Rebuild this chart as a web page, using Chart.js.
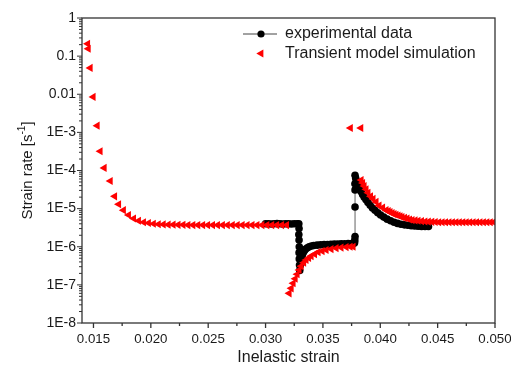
<!DOCTYPE html>
<html>
<head>
<meta charset="utf-8">
<script src="https://cdn.jsdelivr.net/npm/chart.js@4.4.1/dist/chart.umd.min.js"></script>
<style>
  html, body { margin: 0; padding: 0; background: #fff; }
  #wrap { width: 511px; height: 369px; }
</style>
</head>
<body>
<div id="wrap"><canvas id="rateChart" width="511" height="369"></canvas></div>
<script>
// axis ticks
const xTicks = [0.015, 0.020, 0.025, 0.030, 0.035, 0.040, 0.045, 0.050];
const xTickLabels = ['0.015', '0.020', '0.025', '0.030', '0.035', '0.040', '0.045', '0.050'];
const yTicks = [1, 0.1, 0.01, 1e-3, 1e-4, 1e-5, 1e-6, 1e-7, 1e-8];
const yTickLabels = ['1', '0.1', '0.01', '1E-3', '1E-4', '1E-5', '1E-6', '1E-7', '1E-8'];

// experimental data (inelastic strain / strain rate)
const expStrain = [
  0.03000, 0.03025, 0.03050, 0.03075, 0.03100, 0.03125, 0.03150, 0.03175, 0.03200, 0.03225,
  0.03250, 0.03275, 0.03290, 0.03292, 0.03290, 0.03292, 0.03294, 0.03292, 0.03294, 0.03296,
  0.03298, 0.03302, 0.03308, 0.03314, 0.03320, 0.03328, 0.03338, 0.03350, 0.03365, 0.03380,
  0.03400, 0.03420, 0.03450, 0.03480, 0.03510, 0.03540, 0.03570, 0.03600, 0.03630, 0.03660,
  0.03690, 0.03720, 0.03750, 0.03772, 0.03776, 0.03778, 0.03780, 0.03780, 0.03780, 0.03779,
  0.03780, 0.03786, 0.03794, 0.03802, 0.03810, 0.03820, 0.03832, 0.03846, 0.03860, 0.03876,
  0.03893, 0.03912, 0.03932, 0.03954, 0.03978, 0.04003, 0.04030, 0.04060, 0.04090, 0.04120,
  0.04150, 0.04180, 0.04210, 0.04240, 0.04270, 0.04300, 0.04330, 0.04360, 0.04390, 0.04420
];
const expRate = [
  4.0e-6, 4.0e-6, 3.95e-6, 4.0e-6, 4.05e-6, 4.0e-6, 3.95e-6, 4.0e-6, 4.0e-6, 3.95e-6,
  4.0e-6, 4.0e-6, 4.0e-6, 3.0e-6, 2.1e-6, 1.5e-6, 1.0e-6, 7.0e-7, 4.8e-7, 3.3e-7,
  2.4e-7, 3.2e-7, 4.3e-7, 5.3e-7, 6.1e-7, 7.0e-7, 7.9e-7, 8.7e-7, 9.4e-7, 1.0e-6,
  1.05e-6, 1.08e-6, 1.1e-6, 1.12e-6, 1.14e-6, 1.15e-6, 1.16e-6, 1.17e-6, 1.18e-6, 1.19e-6,
  1.2e-6, 1.21e-6, 1.22e-6, 1.23e-6, 1.3e-6, 1.5e-6, 1.85e-6, 1.1e-5, 3.1e-5, 4.5e-5,
  7.5e-5, 6.2e-5, 5.2e-5, 4.5e-5, 3.9e-5, 3.3e-5, 2.8e-5, 2.35e-5, 2.0e-5, 1.7e-5,
  1.45e-5, 1.22e-5, 1.04e-5, 9.0e-6, 7.8e-6, 6.8e-6, 6.0e-6, 5.3e-6, 4.8e-6, 4.4e-6,
  4.1e-6, 3.9e-6, 3.75e-6, 3.65e-6, 3.55e-6, 3.5e-6, 3.45e-6, 3.4e-6, 3.4e-6, 3.4e-6
];

// transient model simulation
const simStrain = [
  0.01450, 0.01455, 0.01472, 0.01498, 0.01533, 0.01559, 0.01594, 0.01647, 0.01685, 0.01720,
  0.01762, 0.01806, 0.01850, 0.01893, 0.01937, 0.01980, 0.02023, 0.02066, 0.02109, 0.02152,
  0.02195, 0.02238, 0.02281, 0.02324, 0.02367, 0.02410, 0.02453, 0.02496, 0.02539, 0.02582,
  0.02625, 0.02668, 0.02711, 0.02754, 0.02797, 0.02840, 0.02883, 0.02926, 0.02969, 0.03012,
  0.03055, 0.03098, 0.03141, 0.03184,
  0.03206, 0.03224, 0.03241, 0.03259, 0.03276, 0.03293, 0.03311, 0.03333, 0.03354, 0.03376,
  0.03398, 0.03428, 0.03459, 0.03494, 0.03529, 0.03572, 0.03616, 0.03659, 0.03703, 0.03738,
  0.03764,
  0.03740, 0.03831,
  0.03834, 0.03847, 0.03860, 0.03877, 0.03894, 0.03916, 0.03938, 0.03964, 0.03990, 0.04021,
  0.04051, 0.04070, 0.04086, 0.04104, 0.04121, 0.04138, 0.04156, 0.04173, 0.04190, 0.04212,
  0.04234, 0.04256, 0.04278, 0.04304, 0.04330, 0.04360, 0.04390, 0.04420, 0.04450, 0.04480,
  0.04510, 0.04540, 0.04570, 0.04600, 0.04630, 0.04660, 0.04690, 0.04720, 0.04750, 0.04780,
  0.04810, 0.04840, 0.04870, 0.04900, 0.04930, 0.04960, 0.04990, 0.05000
];
const simRate = [
  0.21, 0.156, 0.049, 8.5e-3, 1.5e-3, 3.2e-4, 1.17e-4, 5.3e-5, 2.1e-5, 1.3e-5,
  9.1e-6, 6.8e-6, 5.5e-6, 4.8e-6, 4.4e-6, 4.2e-6, 4.0e-6, 3.9e-6, 3.85e-6, 3.8e-6,
  3.8e-6, 3.75e-6, 3.75e-6, 3.7e-6, 3.7e-6, 3.7e-6, 3.7e-6, 3.7e-6, 3.7e-6, 3.7e-6,
  3.7e-6, 3.7e-6, 3.7e-6, 3.7e-6, 3.7e-6, 3.7e-6, 3.7e-6, 3.7e-6, 3.7e-6, 3.7e-6,
  3.7e-6, 3.7e-6, 3.7e-6, 3.7e-6,
  6.0e-8, 8.1e-8, 1.1e-7, 1.45e-7, 1.9e-7, 2.45e-7, 3.1e-7, 3.8e-7, 4.5e-7, 5.1e-7,
  5.7e-7, 6.4e-7, 7.2e-7, 7.7e-7, 8.2e-7, 8.7e-7, 9.2e-7, 9.5e-7, 9.8e-7, 1.0e-6,
  1.0e-6,
  1.3e-3, 1.3e-3,
  5.6e-5, 4.7e-5, 3.9e-5, 3.2e-5, 2.6e-5, 2.1e-5, 1.8e-5, 1.5e-5, 1.2e-5, 1.06e-5,
  9.1e-6, 8.6e-6, 8.1e-6, 7.6e-6, 7.2e-6, 6.9e-6, 6.6e-6, 6.3e-6, 6.0e-6, 5.7e-6,
  5.5e-6, 5.2e-6, 5.0e-6, 4.9e-6, 4.8e-6, 4.7e-6, 4.6e-6, 4.55e-6, 4.5e-6, 4.45e-6,
  4.4e-6, 4.4e-6, 4.4e-6, 4.4e-6, 4.4e-6, 4.4e-6, 4.4e-6, 4.4e-6, 4.4e-6, 4.4e-6,
  4.4e-6, 4.4e-6, 4.4e-6, 4.4e-6, 4.4e-6, 4.4e-6, 4.4e-6, 4.4e-6
];

const FONT = "'Liberation Sans', Arial, sans-serif";
const AXIS_COLOR = '#333';
const TEXT_COLOR = '#1a1a1a';

// frame + tick marks (major and minor), outside the plot
const frameAndTicks = {
    id: 'frameAndTicks',
    afterDraw(chart) {
        const ctx = chart.ctx;
        const a = chart.chartArea;
        const xs = chart.scales.x;
        const ys = chart.scales.y;
        ctx.save();
        ctx.strokeStyle = AXIS_COLOR;
        ctx.lineWidth = 1.3;
        ctx.strokeRect(a.left, a.top, a.right - a.left, a.bottom - a.top);

        ctx.beginPath();
        xTicks.forEach((v, i) => {
            const px = xs.getPixelForValue(v);
            ctx.moveTo(px, a.bottom);
            ctx.lineTo(px, a.bottom + 5);
            if (i < xTicks.length - 1) {
                const m = xs.getPixelForValue((v + xTicks[i + 1]) / 2);
                ctx.moveTo(m, a.bottom);
                ctx.lineTo(m, a.bottom + 3);
            }
        });
        ctx.stroke();

        ctx.lineWidth = 1;
        ctx.beginPath();
        const yMin = yTicks[yTicks.length - 1];
        yTicks.forEach(v => {
            const py = ys.getPixelForValue(v);
            ctx.moveTo(a.left - 5, py);
            ctx.lineTo(a.left, py);
            if (v > yMin) {
                for (let k = 2; k < 10; k++) {
                    const m = ys.getPixelForValue(k * v / 10);
                    ctx.moveTo(a.left - 3, m);
                    ctx.lineTo(a.left, m);
                }
            }
        });
        ctx.stroke();
        ctx.restore();
    }
};

// axis titles and the legend inside the plot
const titlesAndLegend = {
    id: 'titlesAndLegend',
    afterDraw(chart) {
        const ctx = chart.ctx;
        const a = chart.chartArea;
        ctx.save();
        ctx.fillStyle = TEXT_COLOR;

        // x title
        ctx.font = '16px ' + FONT;
        ctx.textAlign = 'center';
        ctx.textBaseline = 'middle';
        ctx.fillText('Inelastic strain', (a.left + a.right) / 2, 358);

        // y title with superscript
        ctx.save();
        ctx.translate(28, (a.top + a.bottom) / 2);
        ctx.rotate(-Math.PI / 2);
        const main = 'Strain rate [s', sup = '-1', end = ']';
        ctx.font = '15px ' + FONT;
        const w1 = ctx.measureText(main).width;
        const w3 = ctx.measureText(end).width;
        ctx.font = '10px ' + FONT;
        const w2 = ctx.measureText(sup).width;
        const x0 = -(w1 + w2 + w3) / 2;
        ctx.textAlign = 'left';
        ctx.font = '15px ' + FONT;
        ctx.fillText(main, x0, 0);
        ctx.font = '10px ' + FONT;
        ctx.fillText(sup, x0 + w1, -6);
        ctx.font = '15px ' + FONT;
        ctx.fillText(end, x0 + w1 + w2, 0);
        ctx.restore();

        // legend
        const lx = 261, ly1 = 34, ly2 = 53.5;
        ctx.strokeStyle = '#444';
        ctx.lineWidth = 1;
        ctx.beginPath();
        ctx.moveTo(243, ly1);
        ctx.lineTo(277, ly1);
        ctx.stroke();
        ctx.fillStyle = '#000';
        ctx.beginPath();
        ctx.arc(lx, ly1, 3.6, 0, Math.PI * 2);
        ctx.fill();

        const r = 4.7;
        ctx.fillStyle = '#ff0000';
        ctx.beginPath();
        ctx.moveTo(lx - r, ly2);
        ctx.lineTo(lx + r / 2, ly2 - r * Math.sqrt(3) / 2);
        ctx.lineTo(lx + r / 2, ly2 + r * Math.sqrt(3) / 2);
        ctx.closePath();
        ctx.fill();

        ctx.fillStyle = TEXT_COLOR;
        ctx.font = '16px ' + FONT;
        ctx.textAlign = 'left';
        ctx.textBaseline = 'middle';
        ctx.fillText('experimental data', 285, ly1);
        ctx.fillText('Transient model simulation', 285, ly2);
        ctx.restore();
    }
};

const expPoints = expStrain.map((x, i) => ({ x: x, y: expRate[i] }));
const simPoints = simStrain.map((x, i) => ({ x: x, y: simRate[i] }));

new Chart(document.getElementById('rateChart'), {
    type: 'scatter',
    data: {
        datasets: [{
            label: 'experimental data',
            data: expPoints,
            showLine: true,
            borderColor: 'rgba(70,70,70,0.85)',
            borderWidth: 1,
            pointRadius: 3.8,
            pointBackgroundColor: '#000',
            pointBorderWidth: 0,
            order: 1
        }, {
            label: 'Transient model simulation',
            data: simPoints,
            showLine: false,
            pointStyle: 'triangle',
            pointRotation: -90,
            pointRadius: 4.7,
            pointBackgroundColor: '#ff0000',
            pointBorderWidth: 0,
            order: 0
        }]
    },
    options: {
        responsive: false,
        animation: false,
        layout: { padding: { top: 18, right: 16, left: 0, bottom: 0 } },
        plugins: {
            legend: { display: false },
            tooltip: { enabled: false }
        },
        scales: {
            x: {
                type: 'linear',
                min: 0.014,
                max: 0.05,
                grid: { display: false, drawTicks: false },
                border: { display: false },
                afterBuildTicks: s => { s.ticks = xTicks.map(v => ({ value: v })); },
                afterFit: s => { s.height = 46; s.paddingLeft = 0; s.paddingRight = 0; },
                ticks: {
                    autoSkip: false,
                    maxRotation: 0,
                    padding: 8,
                    color: TEXT_COLOR,
                    font: { size: 13.3, family: FONT },
                    callback: (v, i) => xTickLabels[i]
                }
            },
            y: {
                type: 'logarithmic',
                min: 1e-8,
                max: 1,
                grid: { display: false, drawTicks: false },
                border: { display: false },
                afterBuildTicks: s => { s.ticks = yTicks.map(v => ({ value: v })); },
                afterFit: s => { s.width = 82; s.paddingTop = 0; s.paddingBottom = 0; },
                ticks: {
                    autoSkip: false,
                    padding: 6,
                    color: TEXT_COLOR,
                    font: { size: 14, family: FONT },
                    callback: (v, i) => yTickLabels[i]
                }
            }
        }
    },
    plugins: [frameAndTicks, titlesAndLegend]
});
</script>
</body>
</html>
